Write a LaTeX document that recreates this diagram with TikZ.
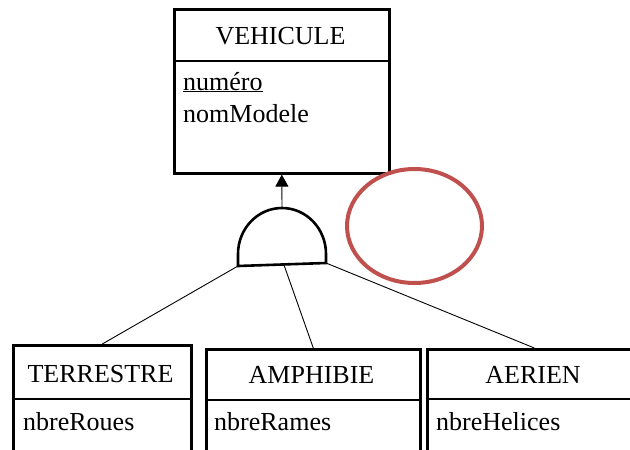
\documentclass[tikz,border=0pt]{standalone}
\usepackage{fontspec}
\setmainfont{Liberation Serif}
\usetikzlibrary{arrows.meta,shapes.geometric}
\definecolor{ovalred}{HTML}{C0504D}
\begin{document}
\begin{tikzpicture}[x=1pt,y=-1pt,
  classbox/.style={draw,line width=2.6pt,rectangle,inner sep=0pt,anchor=north west},
  divider/.style={line width=2.6pt},
  txt/.style={inner sep=0pt,font=\fontspec{Liberation Serif}\fontsize{26}{30}\selectfont},
  link/.style={line width=0.9pt},
  gate/.style={line width=2.6pt,line join=miter},
  oval/.style={draw=ovalred,line width=4pt,ellipse,inner sep=0pt}
]
\useasboundingbox (0,0) rectangle (630,450);
\clip (0,0) rectangle (630,450);
% VEHICULE
\node[classbox,minimum width=215pt,minimum height=164pt] (veh) at (173,8) {};
\draw[divider] (173,61) -- (388,61);
\node[txt,anchor=base] (vehT) at (280.5,44) {VEHICULE};
\node[txt,anchor=base west] (vehA1) at (183,90) {\underline{numéro}};
\node[txt,anchor=base west] (vehA2) at (183,122) {nomModele};
% TERRESTRE
\node[classbox,minimum width=178pt,minimum height=130pt] (terr) at (12,344) {};
\draw[divider] (12,399) -- (190,399);
\node[txt,anchor=base] (terrT) at (100.5,382) {TERRESTRE};
\node[txt,anchor=base west] (terrA) at (23,430) {nbreRoues};
% AMPHIBIE
\node[classbox,minimum width=214pt,minimum height=130pt] (amph) at (205,348) {};
\draw[divider] (205,400) -- (419,400);
\node[txt,anchor=base] (amphT) at (311.5,383) {AMPHIBIE};
\node[txt,anchor=base west] (amphA) at (214,430) {nbreRames};
% AERIEN
\node[classbox,minimum width=214pt,minimum height=130pt] (aer) at (426,348) {};
\draw[divider] (426,399) -- (640,399);
\node[txt,anchor=base] (aerT) at (533,383) {AERIEN};
\node[txt,anchor=base west] (aerA) at (436,430) {nbreHelices};
% gate
\coordinate (gl) at (238,266);
\coordinate (gr) at (326,263);
\coordinate (gm) at (284,265);
\coordinate (gt) at (282,208);
\draw[gate] (gl) -- (238,254) arc[start angle=180,end angle=0,x radius=44pt,y radius=46pt] -- (gr) -- cycle;
\draw[link,-{Triangle[width=13pt,length=12pt]}] (gt) -- (veh.south);
\draw[link] (gl) -- (terr.north);
\draw[link] (gm) -- (amph.north);
\draw[link] (gr) -- (aer.north);
% red oval
\node[oval,minimum width=135pt,minimum height=114pt] (redoval) at (414.5,226) {};
\end{tikzpicture}
\end{document}
